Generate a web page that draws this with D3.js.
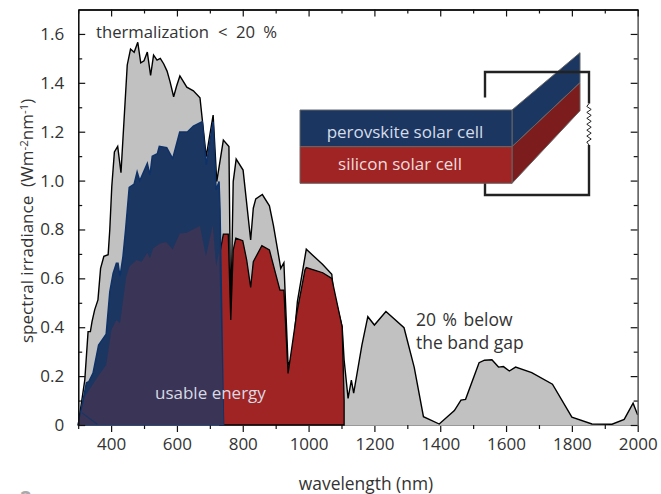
<!DOCTYPE html>
<html><head><meta charset="utf-8">
<script src="https://cdn.jsdelivr.net/npm/d3@7/dist/d3.min.js"></script>
<style>html,body{margin:0;padding:0;background:#fff;overflow:hidden}svg{display:block}text{font-family:"Open Sans",sans-serif}</style>
</head><body><svg id="c" width="661" height="494"></svg>
<script>
const amNm=[300,320,330,337,342,350,360,368,378,391,396,402,410,420,430,449,459,470,481,490,500,510,520,529,539.5,549.5,560,570,579,590,599,609,630,650,670,689,710,721,741,758,763.5,771,780,801,824,832,839.5,859.5,881,893,915.5,925,937.7,951,966,993,1020,1043,1070.5,1075,1102,1108,1120,1130,1137,1162,1180,1200,1235,1290,1321,1349,1397,1443,1463,1477,1518,1534.5,1557,1577,1592,1610,1629,1678,1741,1800,1861,1922,1959,1986,2000];
const amVal=[0,.184,.382,.382,.423,.471,.512,.641,.69,.697,.80,.975,1.117,1.14,1.032,1.473,1.538,1.525,1.566,1.482,1.49,1.526,1.43,1.513,1.493,1.5,1.477,1.448,1.405,1.343,1.387,1.428,1.382,1.367,1.339,1.098,1.268,.996,1.166,1.139,.43,.996,1.088,1.043,.757,.887,.925,.943,.897,.818,.641,.664,.245,.28,.505,.719,.685,.657,.617,.552,.402,.266,.109,.184,.13,.327,.443,.409,.464,.398,.236,.034,.004,.059,.102,.105,.255,.265,.267,.237,.239,.221,.237,.214,.167,.032,.004,.003,.023,.089,.041];
const siNm=[730,741,756,763.5,771,779,800,812,824,832,858,881,913,925,937.7,964,989,993,1020,1043,1070.5,1102,1108,1108];
const siVal=[.70,.781,.781,.43,.716,.765,.754,.675,.563,.668,.734,.716,.552,.552,.211,.457,.634,.644,.633,.623,.60,.402,.1,0];
const pkNm=[300,325,332,345,362,385,396,406,416,421,427,436,444,455,470,479,487,510,518,525,540.5,546.5,569,587,608.5,631.6,650,677,689,710,719,728,731,741,742];
const pkVal=[0,.173,.177,.212,.327,.372,.545,.62,.662,.662,.607,.689,.80,.972,.986,1.036,.999,1.07,1.023,1.1,1.11,1.14,1.135,1.09,1.199,1.199,1.223,1.241,1.064,1.241,.962,.996,.88,.04,0];
const ovNm=[300,320,360,385,401,416,427,446,456,477,493,510,518,528,549,567,587,609,630,650,670,688,709,719,728,741,742];
const ovVal=[0,.116,.198,.245,.389,.43,.416,.607,.648,.675,.668,.705,.682,.723,.743,.749,.719,.784,.787,.801,.814,.691,.818,.648,.709,.04,0];
const edgeNm=[311,358];
const edgeVal=[.05,.003];
const xMajor=[400,600,800,1000,1200,1400,1600,1800,2000];
const xMinor=[300,500,700,900,1100,1300,1500,1700,1900];
const yMajor=[0,.2,.4,.6,.8,1.0,1.2,1.4,1.6];
const yMinor=[.1,.3,.5,.7,.9,1.1,1.3,1.5];

const svg=d3.select("#c");
const x=d3.scaleLinear().domain([300,2000]).range([78.2,637.7]);
const y=d3.scaleLinear().domain([0,1.7]).range([425,9.5]);
const pts=(a,b)=>a.map((d,i)=>[d,b[i]]);
const area=d3.area().x(d=>x(d[0])).y0(y(0)).y1(d=>y(d[1]));
const line=d3.line().x(d=>x(d[0])).y(d=>y(d[1]));
const ink="#333";

function ax(gen,vals,size,tx,ty,labels,pad){
  const a=gen.tickValues(vals).tickSizeInner(size).tickSizeOuter(0);
  if(labels){a.tickFormat(labels).tickPadding(pad)}else{a.tickFormat("")}
  const g=svg.append("g").attr("transform",`translate(${tx},${ty})`).call(a);
  g.selectAll("line").attr("stroke","#111").attr("stroke-width",1.2);
  g.select(".domain").attr("stroke","#111").attr("stroke-width",1.3);
  g.selectAll("text").attr("fill",ink).style("font-family",'"Open Sans",sans-serif').style("font-size","17px");
  return g;
}
ax(d3.axisBottom(x),xMajor,7,0,425,d3.format("d"),6).select(".domain").attr("stroke","#999").attr("stroke-width",1);
ax(d3.axisBottom(x),xMinor,4,0,425).select(".domain").attr("stroke","#999").attr("stroke-width",1);

svg.append("path").attr("d",area(pts(amNm,amVal))).attr("fill","#c1c1c1");
svg.append("path").attr("d",line(pts(amNm,amVal))).attr("fill","none").attr("stroke","#000").attr("stroke-width",1.4);
svg.append("path").attr("d",area(pts(siNm,siVal))).attr("fill","#a02423");
svg.append("path").attr("d",line(pts(siNm,siVal))+"L"+x(siNm[0])+","+y(0)+"Z").attr("fill","none").attr("stroke","#000").attr("stroke-width",1.3);
svg.append("path").attr("d",area(pts(pkNm,pkVal))).attr("fill","#1b3661");
svg.append("path").attr("d",line(pts(pkNm,pkVal))+"Z").attr("fill","none").attr("stroke","#0e3268").attr("stroke-width",1.5);
svg.append("path").attr("d",area(pts(ovNm,ovVal))).attr("fill","#3a3456");
svg.append("path").attr("d",line(pts(edgeNm,edgeVal))).attr("fill","none").attr("stroke","#1b3661").attr("stroke-width",1.2);

const yf=d=>d===0?"0":d3.format(".1f")(d);
ax(d3.axisLeft(y),yMajor,-7,78.2,0,yf,14);
ax(d3.axisLeft(y),yMinor,-4,78.2,0);
ax(d3.axisRight(y),yMajor,-7,637.7,0).select(".domain").attr("stroke","#666");
ax(d3.axisRight(y),yMinor,-4,637.7,0).select(".domain").attr("stroke","#666");
ax(d3.axisTop(x),xMajor,-7,0,9.5);
ax(d3.axisTop(x),xMinor,-4,0,9.5);

function label(t,px,py,o={}){
  const s=svg.append("text").attr("x",px).attr("y",py).attr("fill",o.fill||ink)
   .attr("text-anchor",o.anchor||"start").attr("font-size",o.size||17).text(t).style("white-space","pre");
  if(o.ws) s.style("word-spacing",o.ws+"px");
  return s;
}
label("thermalization",96,38,{size:16.7});
label("< 20 %",218,38,{size:16.7,ws:4});
label("20 % below",416,326,{size:17.5,ws:2});
label("the band gap",416,349,{size:17.5});
label("usable energy",155,399,{fill:"#d9d9e2"});
label("wavelength (nm)",366,490,{anchor:"middle",size:17.4});
label("2",20,505,{fill:"#aaa",size:20}).attr("font-weight",700);
svg.append("text").attr("transform","translate(33,343) rotate(-90)").attr("text-anchor","start")
 .attr("fill",ink).attr("font-size",17).html('spectral irradiance  (Wm<tspan dy="-5" font-size="11.5">-2</tspan><tspan dy="5">nm</tspan><tspan dy="-5" font-size="11.5">-1</tspan><tspan dy="5">)</tspan>').style("white-space","pre");

// cell sketch
const poly=(p,f)=>svg.append("polygon").attr("points",p.join(" ")).attr("fill",f).attr("stroke","#666").attr("stroke-width",1);
poly([[512,110],[580,52.7],[580,82.7],[512,146.7]],"#1b3661");
poly([[512,146.7],[580,82.7],[580,110.7],[512,183.3]],"#7d1c1c");
poly([[300,110],[512,110],[512,146.7],[300,146.7]],"#1b3661");
poly([[300,146.7],[512,146.7],[512,183.3],[300,183.3]],"#a02423");
const wire=d3.line();
svg.append("path").attr("d",wire([[485,97.5],[485,72],[589,72],[589,103.5]])).attr("fill","none").attr("stroke","#222").attr("stroke-width",2.4);
svg.append("path").attr("d",wire([[485,183.5],[485,195],[589,195],[589,145]])).attr("fill","none").attr("stroke","#222").attr("stroke-width",2.4);
const zig=d3.range(0,15).map(i=>[i===0||i===14?589:(i%2?586.8:591.2),103.5+i*41.5/14]);
svg.append("path").attr("d",wire(zig)).attr("fill","none").attr("stroke","#222").attr("stroke-width",1);
label("perovskite solar cell",405,138,{anchor:"middle",fill:"#d5dce8"});
label("silicon solar cell",400,170,{anchor:"middle",fill:"#eedddd"});
</script></body></html>
